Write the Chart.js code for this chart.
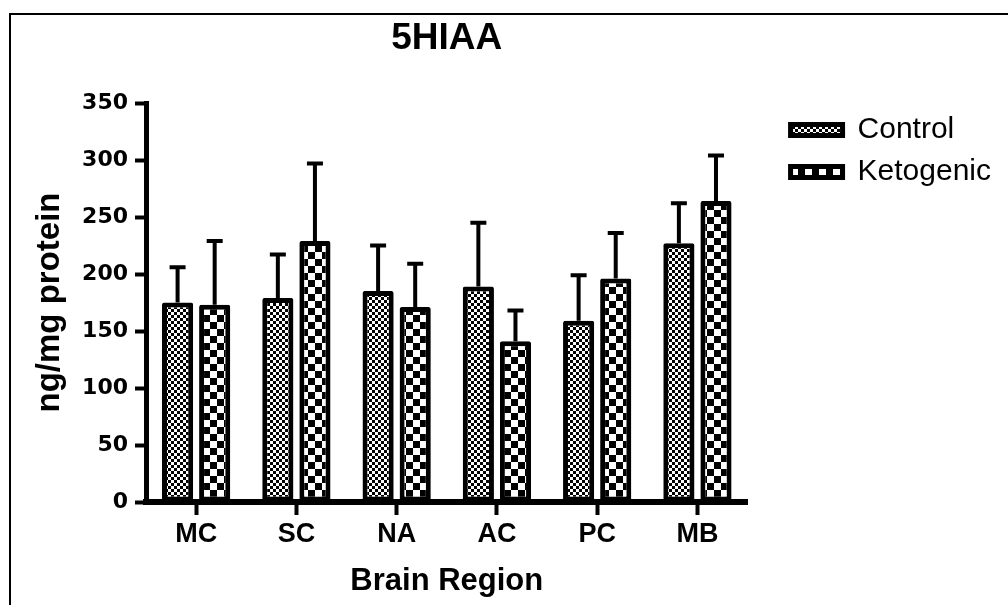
<!DOCTYPE html>
<html>
<head>
<meta charset="utf-8">
<script src="https://cdn.jsdelivr.net/npm/chart.js@4.4.1/dist/chart.umd.min.js"></script>
<style>
  html, body { margin: 0; padding: 0; background: #ffffff; }
  #wrap { position: relative; width: 1008px; height: 605px; }
</style>
</head>
<body>
<div id="wrap"><canvas id="c" width="1008" height="605"></canvas></div>
<script>
// Brain regions on the category axis
const regions = ['MC', 'SC', 'NA', 'AC', 'PC', 'MB'];

// 5-HIAA concentration (ng/mg protein), mean and upper error per group
const controlMean = [175, 179, 185, 189, 159, 227];
const controlErr  = [31, 38, 40, 56, 40, 35];
const ketoMean    = [173, 229, 171, 141, 196, 264];
const ketoErr     = [56, 68, 38, 27, 40, 40];

// y-axis range and tick step
const yMin = 0, yMax = 350, yStep = 50;

const seriesNames = ['Control', 'Ketogenic'];
const chartTitle = '5HIAA';
const xTitle = 'Brain Region';
const yTitle = 'ng/mg protein';

// checkerboard fill pattern
function checker(cell) {
  const c = document.createElement('canvas');
  c.width = c.height = cell * 2;
  const g = c.getContext('2d');
  g.fillStyle = '#ffffff';
  g.fillRect(0, 0, cell * 2, cell * 2);
  g.fillStyle = '#000000';
  g.fillRect(0, 0, cell, cell);
  g.fillRect(cell, cell, cell, cell);
  return g.createPattern(c, 'repeat');
}
const ctx = document.getElementById('c').getContext('2d');
const fineCheck = checker(3);
const coarseCheck = checker(7);

// upward error bars with caps
const errorBars = {
  id: 'errorBars',
  afterDatasetsDraw(chart) {
    const g = chart.ctx;
    const y = chart.scales.y;
    const errs = [controlErr, ketoErr];
    const means = [controlMean, ketoMean];
    g.save();
    g.strokeStyle = '#000';
    g.lineWidth = 4;
    g.lineCap = 'butt';
    chart.data.datasets.forEach((ds, di) => {
      const meta = chart.getDatasetMeta(di);
      meta.data.forEach((bar, i) => {
        const top = y.getPixelForValue(means[di][i] + errs[di][i]);
        g.beginPath();
        g.moveTo(bar.x, bar.y);
        g.lineTo(bar.x, top);
        g.moveTo(bar.x - 8, top);
        g.lineTo(bar.x + 8, top);
        g.stroke();
      });
    });
    g.restore();
  }
};

// white page with the outer frame lines
const frame = {
  id: 'frame',
  beforeDraw(chart) {
    const g = chart.ctx;
    g.save();
    g.fillStyle = '#ffffff';
    g.fillRect(0, 0, chart.width, chart.height);
    g.fillStyle = '#000000';
    g.fillRect(9, 13, chart.width - 9, 2);
    g.fillRect(9, 13, 2, chart.height - 13);
    g.restore();
  }
};

new Chart(ctx, {
  type: 'bar',
  data: {
    labels: regions,
    datasets: [
      {
        label: seriesNames[0],
        data: controlMean,
        backgroundColor: fineCheck,
        borderColor: '#000',
        borderWidth: 5,
        borderSkipped: false,
        borderRadius: 2,
        categoryPercentage: 0.74,
        barPercentage: 0.84
      },
      {
        label: seriesNames[1],
        data: ketoMean,
        backgroundColor: coarseCheck,
        borderColor: '#000',
        borderWidth: 5,
        borderSkipped: false,
        borderRadius: 2,
        categoryPercentage: 0.74,
        barPercentage: 0.84
      }
    ]
  },
  options: {
    responsive: false,
    devicePixelRatio: 1,
    animation: false,
    layout: { padding: { left: 0, right: 7, top: 0, bottom: 0 } },
    plugins: {
      title: { display: false },
      tooltip: { enabled: false },
      legend: {
        position: 'right',
        align: 'start',
        fullSize: false,
        maxWidth: 260,
        labels: {
          boxWidth: 52,
          boxHeight: 11,
          padding: 12,
          color: '#000',
          font: { family: "'Liberation Sans', Arial, sans-serif", size: 30, weight: 'normal' },
          generateLabels(chart) {
            return Chart.defaults.plugins.legend.labels.generateLabels(chart).map(l => {
              l.lineWidth = 5;
              l.strokeStyle = '#000';
              return l;
            });
          }
        }
      }
    },
    scales: {
      x: {
        position: 'bottom',
        offset: true,
        grid: {
          display: true,
          drawOnChartArea: false,
          offset: false,
          tickLength: 13,
          tickWidth: 4,
          tickColor: '#000',
          color: '#000'
        },
        border: { display: true, width: 6, color: '#000' },
        ticks: {
          color: '#000',
          padding: 3,
          font: { family: "'Liberation Sans', Arial, sans-serif", size: 27, weight: 'bold' }
        },
        title: {
          display: true,
          text: xTitle,
          color: '#000',
          padding: { top: 0, bottom: 5 },
          font: { family: "'Liberation Sans', Arial, sans-serif", size: 31, weight: 'bold' }
        },
        afterFit(scale) { scale.height = 103; }
      },
      x2: {
        type: 'category',
        labels: regions,
        position: 'top',
        grid: { display: false },
        border: { display: false },
        ticks: { display: false },
        title: {
          display: true,
          text: chartTitle,
          color: '#000',
          padding: { top: 17, bottom: 0 },
          font: { family: "'Liberation Sans', Arial, sans-serif", size: 37, weight: 'bold' }
        },
        afterFit(scale) { scale.height = 103; }
      },
      y: {
        position: 'left',
        min: yMin,
        max: yMax,
        grid: {
          display: true,
          drawOnChartArea: false,
          tickLength: 11,
          tickWidth: 4,
          tickColor: '#000',
          color: '#000'
        },
        border: { display: true, width: 5, color: '#000' },
        ticks: {
          stepSize: yStep,
          color: '#000',
          padding: 7,
          font: { family: "'DejaVu Sans', sans-serif", size: 22, weight: 'bold' }
        },
        title: {
          display: true,
          text: yTitle,
          color: '#000',
          padding: { top: 30, bottom: 0 },
          font: { family: "'Liberation Sans', Arial, sans-serif", size: 33, weight: 'bold' }
        },
        afterFit(scale) { scale.width = 146; }
      },
      y2: {
        type: 'linear',
        position: 'right',
        min: yMin,
        max: yMax,
        grid: { display: false },
        border: { display: false },
        ticks: { display: false },
        afterFit(scale) { scale.width = 31; }
      }
    }
  },
  plugins: [frame, errorBars]
});
</script>
</body>
</html>
